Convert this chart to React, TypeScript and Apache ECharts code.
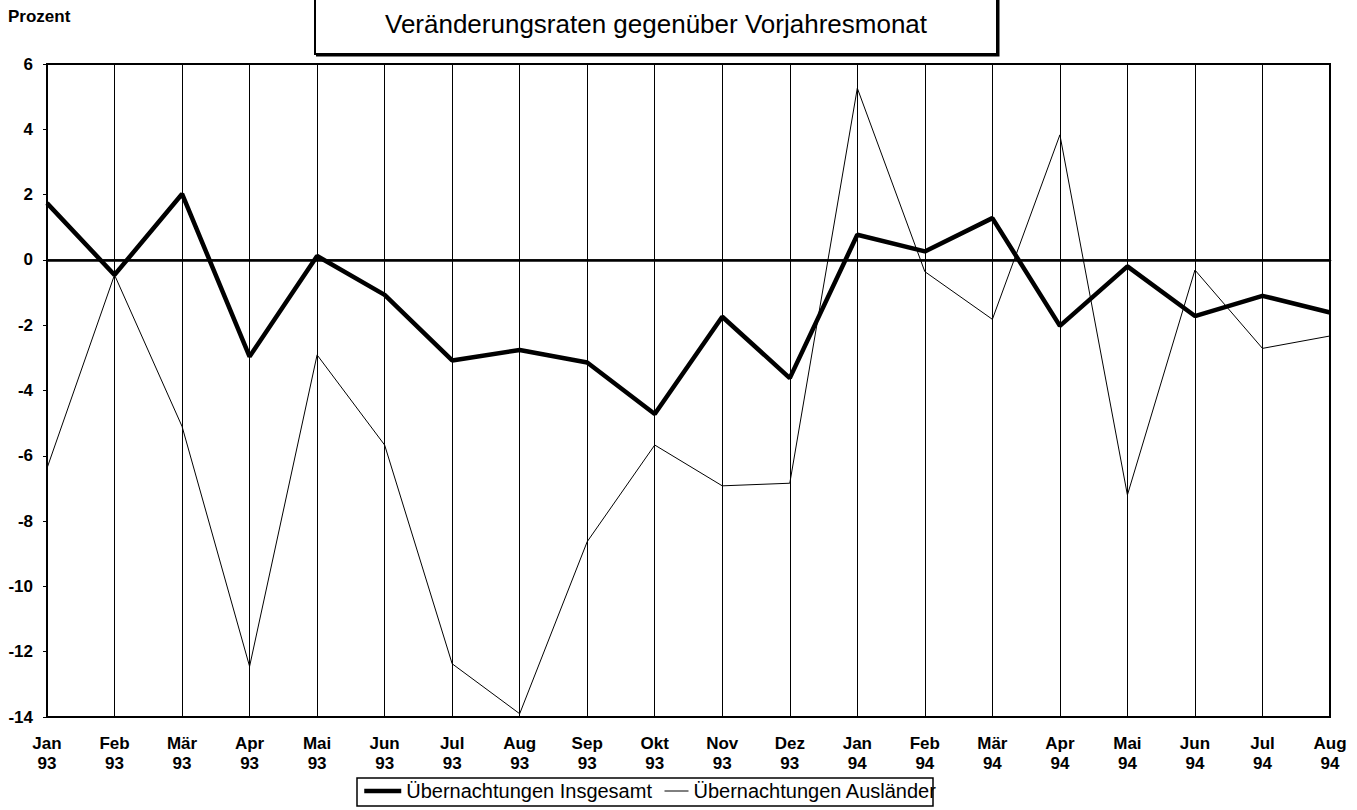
import React, { useEffect, useRef } from "react";
import * as echarts from "echarts";

const months = ["Jan", "Feb", "Mär", "Apr", "Mai", "Jun", "Jul", "Aug", "Sep", "Okt", "Nov", "Dez", "Jan", "Feb", "Mär", "Apr", "Mai", "Jun", "Jul", "Aug"];
const years = ["93", "93", "93", "93", "93", "93", "93", "93", "93", "93", "93", "93", "94", "94", "94", "94", "94", "94", "94", "94"];
const insgesamt = [1.74, -0.46, 2.02, -2.96, 0.12, -1.07, -3.08, -2.76, -3.14, -4.72, -1.74, -3.62, 0.77, 0.26, 1.28, -2.02, -0.2, -1.72, -1.1, -1.61];
const auslaender = [-6.38, -0.46, -5.1, -12.45, -2.91, -5.67, -12.37, -13.9, -8.63, -5.67, -6.92, -6.84, 5.26, -0.36, -1.82, 3.83, -7.2, -0.31, -2.71, -2.33];
const yTicks = { min: -14, max: 6, step: 2 };
const nameInsgesamt = "Übernachtungen Insgesamt";
const nameAuslaender = "Übernachtungen Ausländer";
const titleText = "Veränderungsraten gegenüber Vorjahresmonat";
const yUnit = "Prozent";

const FONT = "'Liberation Sans', Arial, Helvetica, sans-serif";

export default function App() {
  const ref = useRef<HTMLDivElement>(null);
  useEffect(() => {
    if (!ref.current) return;
    const chart = echarts.init(ref.current, undefined, { renderer: "svg" });
    const categories = months.map((m, i) => m + "\n" + years[i]);
    chart.setOption({
      animation: false,
      backgroundColor: "#fff",
      grid: { left: 47, right: 27, top: 64, bottom: 93, show: true, borderColor: "#000", borderWidth: 2, backgroundColor: "transparent" },
      xAxis: {
        type: "category",
        data: categories,
        boundaryGap: false,
        axisLine: { show: true, lineStyle: { color: "#000", width: 2.5 } },
        axisTick: { show: false },
        axisLabel: { interval: 0, color: "#000", fontFamily: FONT, fontWeight: "bold", fontSize: 17, lineHeight: 20, margin: 16 },
        splitLine: { show: true, lineStyle: { color: "#000", width: 1 } },
      },
      yAxis: {
        type: "value",
        min: yTicks.min,
        max: yTicks.max,
        interval: yTicks.step,
        axisLine: { show: true, lineStyle: { color: "#000", width: 2 } },
        axisTick: { show: true, length: 4, lineStyle: { color: "#000", width: 1 } },
        axisLabel: { color: "#000", fontFamily: FONT, fontWeight: "bold", fontSize: 17, margin: 14 },
        splitLine: { show: false },
      },
      legend: [
        {
          data: [nameInsgesamt],
          left: 362,
          top: 781,
          padding: 0,
          itemWidth: 37,
          itemHeight: 14,
          itemStyle: { opacity: 0 },
          lineStyle: { width: 4.5, color: "#000" },
          textStyle: { color: "#000", fontFamily: FONT, fontSize: 20 },
        },
        {
          data: [nameAuslaender],
          left: 664,
          top: 781,
          padding: 0,
          itemWidth: 24,
          itemHeight: 14,
          itemStyle: { opacity: 0 },
          lineStyle: { width: 1, color: "#000" },
          textStyle: { color: "#000", fontFamily: FONT, fontSize: 20 },
        },
      ],
      graphic: [
        { type: "rect", z: 10, shape: { x: 357, y: 778, width: 576, height: 28 }, style: { fill: "none", stroke: "#000", lineWidth: 1.5 } },
        { type: "rect", z: 10, shape: { x: 315, y: -20, width: 682, height: 74 }, style: { fill: "#fff", stroke: "#000", lineWidth: 2 } },
        { type: "polyline", z: 10, shape: { points: [[998, -20], [998, 55], [316, 55]] }, style: { fill: "none", stroke: "#000", lineWidth: 3 } },
        { type: "text", z: 11, x: 656, y: 24, style: { text: titleText, fill: "#000", font: `26px ${FONT}`, textAlign: "center", textVerticalAlign: "middle" } },
        { type: "text", z: 11, x: 8, y: 16, style: { text: yUnit, fill: "#000", font: `bold 17px ${FONT}`, textAlign: "left", textVerticalAlign: "middle" } },
      ],
      series: [
        {
          name: nameInsgesamt,
          type: "line",
          data: insgesamt,
          symbol: "none",
          lineStyle: { color: "#000", width: 4.5 },
          itemStyle: { color: "#000" },
          z: 3,
        },
        {
          name: nameAuslaender,
          type: "line",
          data: auslaender,
          symbol: "none",
          lineStyle: { color: "#000", width: 1 },
          itemStyle: { color: "#000" },
          z: 2,
          markLine: {
            silent: true,
            symbol: "none",
            label: { show: false },
            lineStyle: { color: "#000", width: 1.5, type: "solid" },
            data: [{ yAxis: 0 }],
          },
        },
      ],
    });
    return () => chart.dispose();
  }, []);
  return <div ref={ref} style={{ position: "absolute", left: 0, top: 0, width: 1357, height: 810 }} />;
}
